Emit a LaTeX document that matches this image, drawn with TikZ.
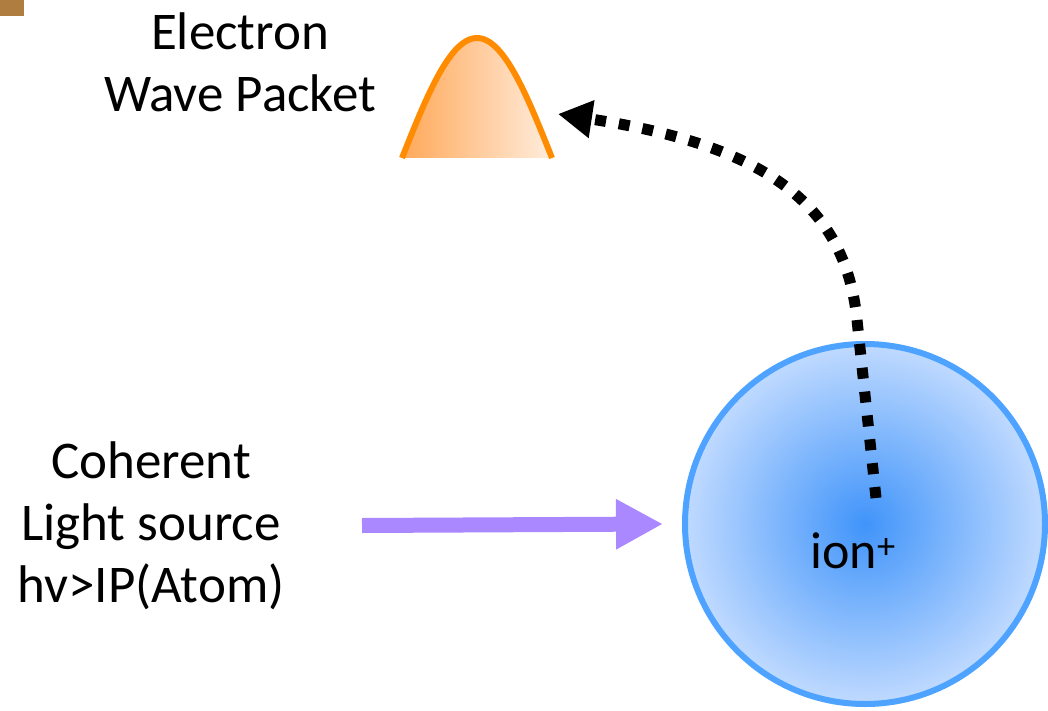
\documentclass[tikz,border=0pt]{standalone}
\usepackage{fontspec}
\setmainfont{Carlito}
\usetikzlibrary{arrows.meta}
\definecolor{brn}{RGB}{176,125,64}
\definecolor{pkline}{RGB}{255,140,0}
\definecolor{pkleft}{RGB}{255,168,88}
\definecolor{pkright}{RGB}{255,238,224}
\definecolor{ring}{RGB}{77,163,255}
\definecolor{ioninner}{RGB}{64,148,250}
\definecolor{ionouter}{RGB}{192,218,255}
\definecolor{lightarrow}{RGB}{170,136,255}
\tikzset{
  lbl/.style={font=\fontsize{53}{62}\selectfont, align=center, anchor=base, inner sep=0pt},
  ionball/.style={circle, draw=ring, line width=6pt, minimum size=360pt, inner sep=0pt,
                  inner color=ioninner, outer color=ionouter},
  photon/.style={draw=lightarrow, line width=15pt, -{Triangle[length=47pt,width=47pt]}},
  emit/.style={line width=11pt, dash pattern=on 11pt off 13pt, -{Triangle[length=34pt,width=36pt]}},
}
\begin{document}
\begin{tikzpicture}[x=1pt,y=-1pt]
\useasboundingbox (0,0) rectangle (1048,711);
\fill[brn] (0,0) rectangle (24,16);

% electron wave packet
\begin{scope}
\clip (402,158) -- plot[domain=0:180,samples=60] ({402+\x/180*150},{158-120*sin(\x)}) -- cycle;
\shade[left color=pkleft, right color=pkright] (400,30) rectangle (555,160);
\end{scope}
\draw[pkline, line width=6pt] plot[domain=0:180,samples=60] ({402+\x/180*150},{158-120*sin(\x)});
\coordinate (packet) at (558,114);

\node[lbl] (wplabel) at (240,112) {Electron\\Wave Packet};
\node[lbl] (lightlabel) at (151,602) {Coherent\\Light source\\hv>IP(Atom)};

% ion
\node[ionball] (ion) at (865,524) {};
\node[font=\fontsize{52}{62}\selectfont, anchor=base, inner sep=0pt] (ionlabel) at (853,568) {ion\textsuperscript{+}};

% photon arrow
\coordinate (src) at (362,525.5);
\draw[photon] (src) -- ([xshift=-19pt]ion.west);

% emitted electron
\coordinate (start) at (876,498);
\coordinate (bend) at (857,320);
\draw[emit] (start) -- (bend) .. controls (845,200) and (760,145) .. (packet);
\end{tikzpicture}
\end{document}
